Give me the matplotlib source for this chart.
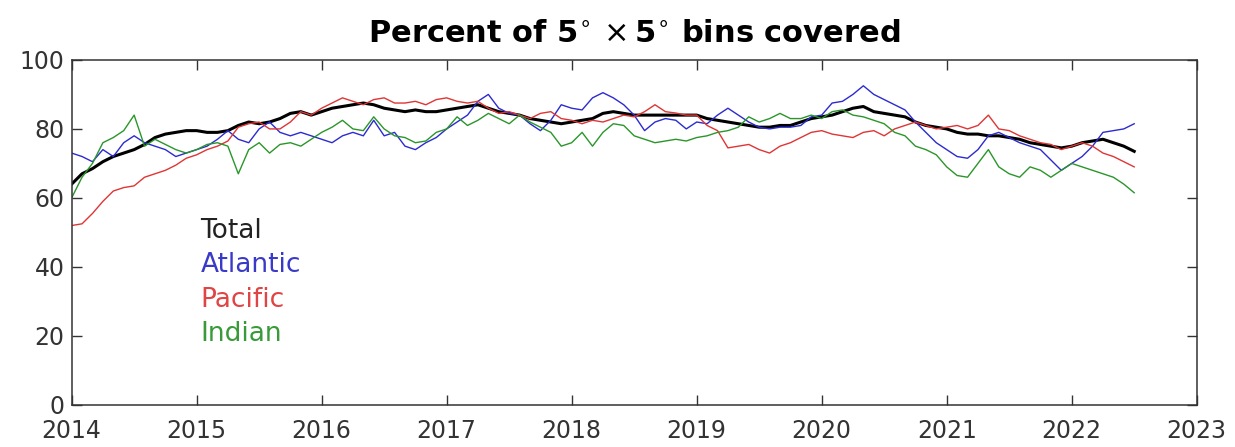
import matplotlib.pyplot as plt
import numpy as np

# monthly readings, Jan 2014 .. Jul 2022 (percent of 5x5 degree bins covered)
total = [64, 67, 68.5, 70.5, 72, 73, 74, 75.5, 77.5, 78.5, 79, 79.5,
         79.5, 79, 79, 79.5, 81, 82, 81.5, 82, 83, 84.5, 85, 84,
         85, 86, 86.5, 87, 87.5, 87, 86, 85.5, 85, 85.5, 85, 85,
         85.5, 86, 86.5, 87, 86, 85, 84.5, 84, 83, 82.5, 82, 81.5,
         82, 82.5, 83, 84.5, 85, 84.5, 84, 84, 84, 84, 84, 84,
         84, 83, 82.5, 82, 81.5, 81, 80.5, 80.5, 81, 81, 82, 83,
         83.5, 84, 85, 86, 86.5, 85, 84.5, 84, 83.5, 82, 81, 80.5,
         80, 79, 78.5, 78.5, 78, 78, 77.5, 77, 76, 75.5, 75, 74.5,
         75, 76, 76.5, 77, 76, 75, 73.5]

atlantic = [73, 72, 70.5, 74, 72, 76, 78, 76, 75, 74, 72, 73,
            74, 75, 77, 79.5, 77, 76, 80, 82, 79, 78, 79, 78,
            77, 76, 78, 79, 78, 82.5, 78, 79, 75, 74, 76, 77.5,
            80, 82, 84, 88, 90, 86, 84.5, 84, 81.5, 79.5, 82.5, 87,
            86, 85.5, 89, 90.5, 89, 87, 84, 79.5, 82, 83, 82.5, 80,
            82, 81.5, 84, 86, 84, 82, 80.5, 80, 80.5, 80.5, 81, 83.5,
            84, 87.5, 88, 90, 92.5, 90, 88.5, 87, 85.5, 82, 79, 76,
            74, 72, 71.5, 74, 78, 79, 77.5, 76, 75, 74, 71, 68,
            70, 72, 75, 79, 79.5, 80, 81.5]

pacific = [52, 52.5, 55.5, 59, 62, 63, 63.5, 66, 67, 68, 69.5, 71.5,
           72.5, 74, 75, 76.5, 80.5, 81.5, 82, 80, 80, 82, 85, 84,
           86, 87.5, 89, 88, 87, 88.5, 89, 87.5, 87.5, 88, 87, 88.5,
           89, 88, 87.5, 88, 86, 84.5, 85, 84, 83, 84.5, 85, 83,
           82.5, 81.5, 82.5, 82, 83, 84, 83.5, 85, 87, 85, 84.6, 84,
           84, 81, 79.5, 74.5, 75, 75.5, 74, 73, 75, 76, 77.5, 79,
           79.5, 78.5, 78, 77.5, 79, 79.5, 78, 80, 81, 82, 81, 80,
           80.5, 81, 80, 81, 84, 80, 79.5, 78, 77, 76, 75.5, 74,
           75, 76, 75, 73, 72, 70.5, 69]

indian = [60, 66, 70, 76, 77.5, 79.5, 84, 75, 77, 75.5, 74, 73,
          74, 75.5, 76, 75, 67, 74, 76, 73, 75.5, 76, 75, 77,
          79, 80.5, 82.5, 80, 79.5, 83.5, 80, 78, 77.5, 76, 76.5, 79,
          80, 83.5, 81, 82.5, 84.5, 83, 81.5, 84, 82, 80.5, 79, 75,
          76, 79, 75, 79, 81.5, 81, 78, 77, 76, 76.5, 77, 76.5,
          77.5, 78, 79, 79.5, 80.5, 83.5, 82, 83, 84.5, 83, 83, 84,
          83, 85, 85.5, 84, 83.5, 82.5, 81.5, 79, 78, 75, 74, 72.5,
          69, 66.5, 66, 70, 74, 69, 67, 66, 69, 68, 66, 68,
          70, 69, 68, 67, 66, 64, 61.5]

names = ['Total', 'Atlantic', 'Pacific', 'Indian']
colors = ['black', '#2b2bd0', '#e03535', '#2a962a']
label_colors = ['#222222', '#3a3ac8', '#e04444', '#389a38']
widths = [2.2, 1.0, 1.0, 1.0]
year_ticks = list(range(2014, 2024))

t = 2014 + np.arange(len(total)) / 12.0

fig = plt.figure(figsize=(12.35, 4.47), dpi=100)
ax = fig.add_axes([0.058, 0.094, 0.911, 0.772])

for series, c, lw in zip([total, atlantic, pacific, indian], colors, widths):
    ax.plot(t, series, color=c, lw=lw)

# coloured text labels instead of a legend box
for i, (name, c) in enumerate(zip(names, label_colors)):
    ax.text(2015.03, 50.5 - 10 * i, name, color=c, fontsize=19,
            ha='left', va='center')

ax.set_xlim(2014, 2023)
ax.set_ylim(0, 100)
ax.set_xticks(year_ticks)
ax.set_yticks([0, 20, 40, 60, 80, 100])
ax.tick_params(direction='in', length=7, width=1, colors='#333333',
               labelsize=17, top=True, right=True)
ax.tick_params(axis='x', pad=10)
ax.tick_params(axis='y', pad=5)
for s in ax.spines.values():
    s.set_color('#333333')
    s.set_linewidth(1.1)

ax.set_title(r'Percent of 5$^{\circ}$$\,\times$5$^{\circ}$ bins covered',
             fontsize=22, fontweight='bold', pad=13)

fig.savefig('out.png', dpi=100)
